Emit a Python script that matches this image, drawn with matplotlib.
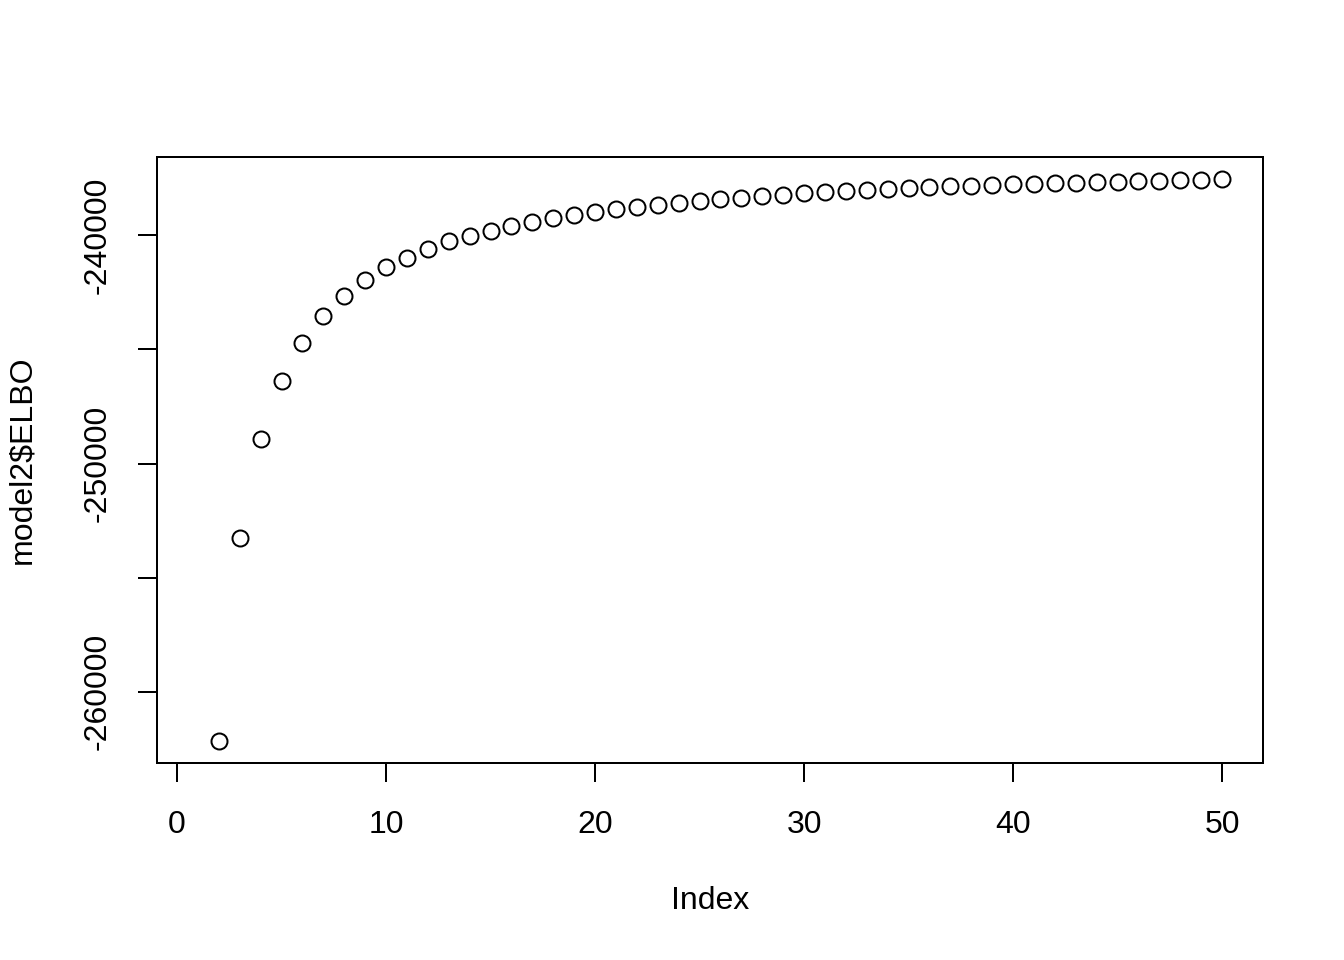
import numpy as np
import matplotlib.pyplot as plt

plt.rcParams['font.family'] = ['Liberation Sans', 'DejaVu Sans']

# ELBO values per iteration (index 1 is missing in the original)
index = list(range(2, 51))
elbo = [-262149, -253246, -248947, -246404, -244737, -243553, -242675, -241974,
        -241404, -241009, -240614, -240263, -240044, -239825, -239605, -239430,
        -239254, -239123, -238991, -238860, -238772, -238684, -238596, -238509,
        -238421, -238377, -238289, -238246, -238158, -238114, -238070, -238026,
        -237982, -237939, -237895, -237851, -237840, -237807, -237763, -237750,
        -237719, -237710, -237675, -237665, -237632, -237622, -237588, -237578,
        -237544]
xticks = [0, 10, 20, 30, 40, 50]
yticks = [-260000, -255000, -250000, -245000, -240000]
ylabels = ['-260000', '', '-250000', '', '-240000']

fig = plt.figure(figsize=(7, 5), dpi=192)
ax = fig.add_axes([157/1344, 1-763/960, (1263-157)/1344, (763-157)/960])
ax.plot(index, elbo, 'o', mfc='none', mec='black', ms=6, mew=0.75)

# R-style 4% padding, x range includes index 1
xr = 50 - 1
ax.set_xlim(1 - 0.04*xr, 50 + 0.04*xr)
yr = max(elbo) - min(elbo)
ax.set_ylim(min(elbo) - 0.04*yr, max(elbo) + 0.04*yr)

ax.set_xticks(xticks)
ax.set_yticks(yticks)
ax.set_yticklabels(ylabels, rotation=90, va='center')
ax.tick_params(axis='x', length=7.2, width=0.75, pad=10.5, labelsize=12)
ax.tick_params(axis='y', length=7.2, width=0.75, pad=9.4, labelsize=12)
for s in ax.spines.values():
    s.set_linewidth(0.75)

fig.text(710/1344, 1-901/960, 'Index', ha='center', va='center', fontsize=12)
fig.text(22/1344, 1-460/960, 'model2$ELBO', ha='center', va='center',
         rotation=90, fontsize=12)

fig.savefig('out.png', dpi=192)
